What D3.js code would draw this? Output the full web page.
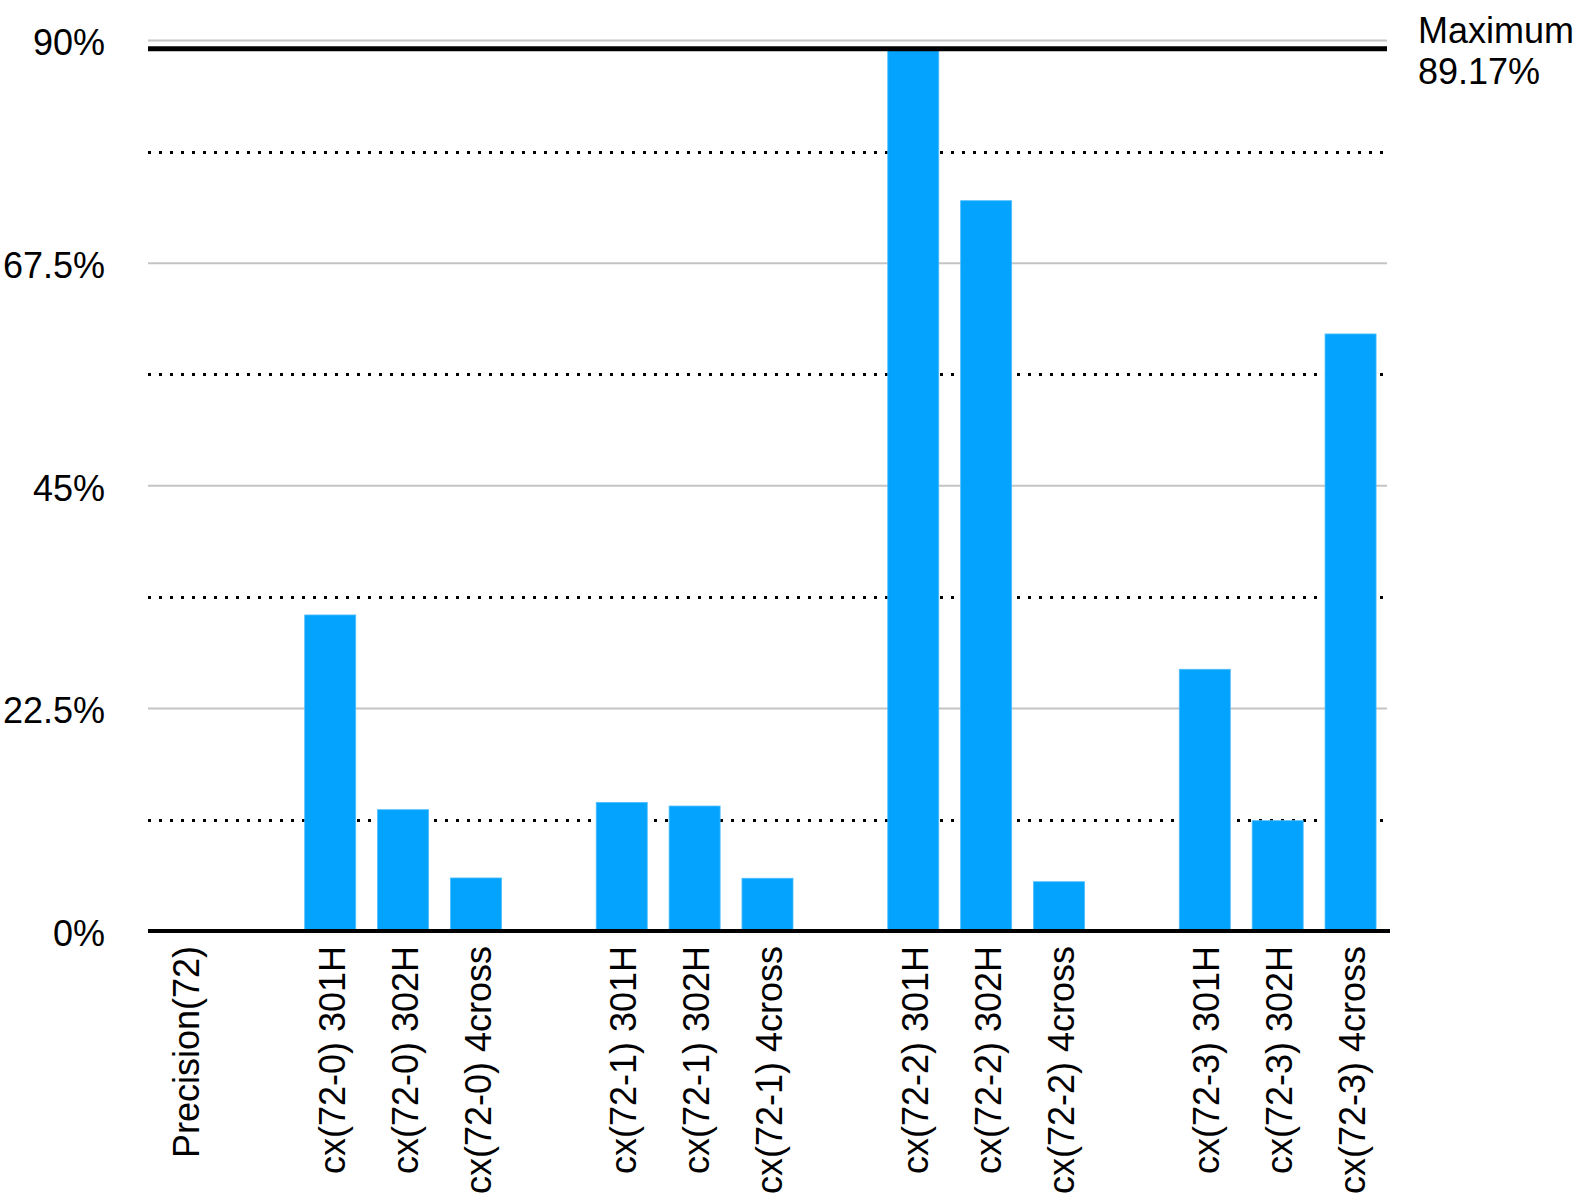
<!DOCTYPE html>
<html lang="en">
<head>
    <meta charset="UTF-8">
    <title>Precision chart</title>
    <script src="https://cdn.jsdelivr.net/npm/d3@7"></script>
    <style>
        body { margin: 0; background: #fff; }
        text { font-family: 'Liberation Sans', Arial, sans-serif; fill: #000; }
    </style>
</head>
<body>
    <div id="chart"></div>
    <script>
        // categories (blank entries are the spacer slots between groups)
        const categories = [
            "Precision(72)", "",
            "cx(72-0) 301H", "cx(72-0) 302H", "cx(72-0) 4cross", "",
            "cx(72-1) 301H", "cx(72-1) 302H", "cx(72-1) 4cross", "",
            "cx(72-2) 301H", "cx(72-2) 302H", "cx(72-2) 4cross", "",
            "cx(72-3) 301H", "cx(72-3) 302H", "cx(72-3) 4cross"
        ];
        // percent values, null = spacer
        const values = [
            0, null,
            31.94, 12.26, 5.36, null,
            13.0, 12.63, 5.33, null,
            89.17, 73.81, 4.98, null,
            26.45, 11.15, 60.34
        ];
        const yTicks = [0, 22.5, 45, 67.5, 90];
        const yTickLabels = ["0%", "22.5%", "45%", "67.5%", "90%"];
        const dottedLevels = [11.25, 33.75, 56.25, 78.75];
        const maxValue = 89.17;
        const maxLabel = ["Maximum", "89.17%"];

        const width = 1579, height = 1199;
        const left = 148, right = 1387;

        const svg = d3.select("#chart").append("svg")
            .attr("width", width)
            .attr("height", height);

        const x = d3.scaleBand()
            .domain(d3.range(categories.length))
            .range([left, right])
            .paddingInner(0.3)
            .paddingOuter(0.15);

        const y = d3.scaleLinear()
            .domain([0, 90])
            .range([931, 40.5]);

        // solid gray gridlines
        svg.append("g").selectAll("line")
            .data(yTicks.filter(d => d > 0))
            .enter().append("line")
            .attr("x1", left).attr("x2", right)
            .attr("y1", d => y(d)).attr("y2", d => y(d))
            .attr("stroke", "#c4c4c4")
            .attr("stroke-width", 2);

        // dotted lines between ticks
        svg.append("g").selectAll("line")
            .data(dottedLevels)
            .enter().append("line")
            .attr("x1", left).attr("x2", right - 2)
            .attr("y1", d => Math.round(y(d)) + 0.5).attr("y2", d => Math.round(y(d)) + 0.5)
            .attr("stroke", "#000")
            .attr("stroke-width", 3)
            .attr("stroke-dasharray", "3,8")
            .attr("shape-rendering", "crispEdges");

        // bars
        svg.append("g").selectAll("rect")
            .data(values.map((v, i) => ({ i, v })).filter(d => d.v !== null && d.v > 0))
            .enter().append("rect")
            .attr("x", d => x(d.i))
            .attr("width", x.bandwidth())
            .attr("y", d => y(d.v))
            .attr("height", d => y(0) - y(d.v))
            .attr("fill", "#03a3fe")
            .attr("stroke", "#4dbdff")
            .attr("stroke-width", 0.8);

        // maximum line
        svg.append("line")
            .attr("x1", left).attr("x2", right)
            .attr("y1", y(maxValue)).attr("y2", y(maxValue))
            .attr("stroke", "#000")
            .attr("stroke-width", 5);

        svg.append("text")
            .attr("x", 1418)
            .attr("y", 43)
            .style("font-size", "36px")
            .selectAll("tspan")
            .data(maxLabel)
            .enter().append("tspan")
            .attr("x", 1418)
            .attr("dy", (d, i) => i === 0 ? 0 : 40.6)
            .text(d => d);

        // y axis labels
        const yAxis = svg.append("g")
            .attr("transform", `translate(${left},0)`)
            .call(d3.axisLeft(y)
                .tickValues(yTicks)
                .tickSize(0)
                .tickPadding(43)
                .tickFormat((d, i) => yTickLabels[i]));
        yAxis.select(".domain").remove();
        yAxis.selectAll("text")
            .attr("dy", "0.4em")
            .style("font-size", "36px")
            .style("font-family", "'Liberation Sans', Arial, sans-serif")
            .attr("fill", "#000");

        // x axis with rotated labels
        const xAxis = svg.append("g")
            .attr("transform", `translate(0,${y(0)})`)
            .call(d3.axisBottom(x)
                .tickSize(0)
                .tickFormat(i => categories[i]));
        xAxis.select(".domain").remove();
        xAxis.selectAll("text")
            .attr("transform", "rotate(-90)")
            .attr("text-anchor", "end")
            .attr("x", -15)
            .attr("y", 2)
            .attr("dy", "0.35em")
            .style("font-size", "36px")
            .style("font-family", "'Liberation Sans', Arial, sans-serif")
            .attr("fill", "#000");

        // baseline
        svg.append("line")
            .attr("x1", left).attr("x2", 1390)
            .attr("y1", y(0)).attr("y2", y(0))
            .attr("stroke", "#000")
            .attr("stroke-width", 4);
    </script>
</body>
</html>
